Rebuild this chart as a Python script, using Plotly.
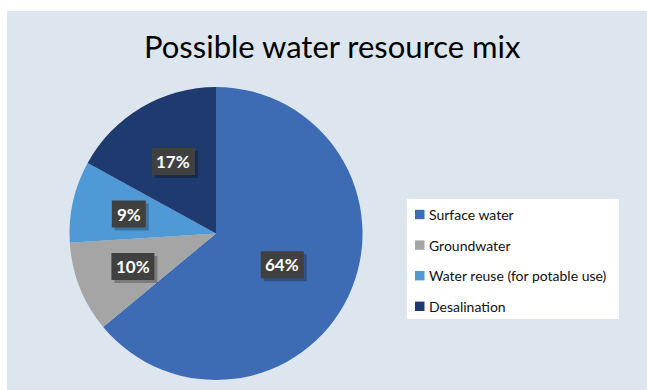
import math
import plotly.graph_objects as go

# ---- data ----
labels = ["Surface water", "Groundwater", "Water reuse (for potable use)", "Desalination"]
values = [64, 10, 9, 17]
colors = ["#3d6cb4", "#a5a5a5", "#4f9ad6", "#1f3a6e"]
title_text = "Possible water resource mix"

# ---- layout config ----
W, H = 647, 390
BG = "#dde6ef"
FONT = "Lato, sans-serif"
# pie geometry in pixels
cx, cy, R = 216.0, 233.5, 146.5
label_radius = [0.50, 0.61, 0.61, 0.57]  # fraction of radius for each data label

def px(x):
    return x / W

def py(y):
    return 1 - y / H

fig = go.Figure()
fig.add_trace(go.Pie(
    labels=labels,
    values=values,
    sort=False,
    direction="clockwise",
    rotation=0,
    marker=dict(colors=colors, line=dict(width=0)),
    textinfo="none",
    hoverinfo="label+percent",
    showlegend=False,
    domain=dict(x=[px(cx - R), px(cx + R)], y=[py(cy + R), py(cy - R)]),
))

annotations = []
shapes = []

# white outer frame strips
shapes.append(dict(type="rect", xref="paper", yref="paper", x0=0, x1=px(7), y0=0, y1=1,
                   fillcolor="white", line=dict(width=0), layer="above"))
shapes.append(dict(type="rect", xref="paper", yref="paper", x0=0, x1=1, y0=py(11), y1=1,
                   fillcolor="white", line=dict(width=0), layer="above"))

# data labels (boxes) computed from values
total = sum(values)
cum = 0.0
for i, v in enumerate(values):
    mid = (cum + v / 2) / total * 2 * math.pi
    cum += v
    r = label_radius[i] * R
    lx = cx + r * math.sin(mid)
    ly = cy - r * math.cos(mid)
    pct = f"{round(v / total * 100)}%"
    bw = 16 + 9 * len(pct)
    bh = 27
    # shadow
    shapes.append(dict(type="rect", xref="paper", yref="paper",
                       x0=px(lx - bw / 2 + 3), x1=px(lx + bw / 2 + 3),
                       y0=py(ly + bh / 2 + 3), y1=py(ly - bh / 2 + 3),
                       fillcolor="rgba(0,0,0,0.25)", line=dict(width=0), layer="above"))
    shapes.append(dict(type="rect", xref="paper", yref="paper",
                       x0=px(lx - bw / 2), x1=px(lx + bw / 2),
                       y0=py(ly + bh / 2), y1=py(ly - bh / 2),
                       fillcolor="#404040", line=dict(width=0), layer="above"))
    annotations.append(dict(
        x=px(lx), y=py(ly), xref="paper", yref="paper", showarrow=False,
        text=f"<b>{pct}</b>", font=dict(family=FONT, size=17, color="white"),
        xanchor="center", yanchor="middle"))

# legend (custom, built from labels/colors)
shapes.append(dict(type="rect", xref="paper", yref="paper", x0=px(407), x1=px(619),
                   y0=py(319), y1=py(199), fillcolor="white", line=dict(width=0), layer="below"))
row_y0, row_dy = 214.5, 30.6
for i, (lab, col) in enumerate(zip(labels, colors)):
    yy = row_y0 + i * row_dy
    shapes.append(dict(type="rect", xref="paper", yref="paper", x0=px(415), x1=px(424.5),
                       y0=py(yy + 4.7), y1=py(yy - 4.7), fillcolor=col, line=dict(width=0)))
    annotations.append(dict(
        x=px(427), y=py(yy), xref="paper", yref="paper", showarrow=False,
        text=lab, font=dict(family=FONT, size=14, color="#111111"),
        xanchor="left", yanchor="middle"))

# title
annotations.append(dict(
    x=px(332.5), y=py(46), xref="paper", yref="paper", showarrow=False,
    text=title_text, font=dict(family=FONT, size=31, color="#000000"),
    xanchor="center", yanchor="middle"))

fig.update_layout(
    width=W, height=H,
    margin=dict(l=0, r=0, t=0, b=0),
    paper_bgcolor=BG, plot_bgcolor=BG,
    annotations=annotations, shapes=shapes,
    showlegend=False,
)

fig.write_html("out.html")
